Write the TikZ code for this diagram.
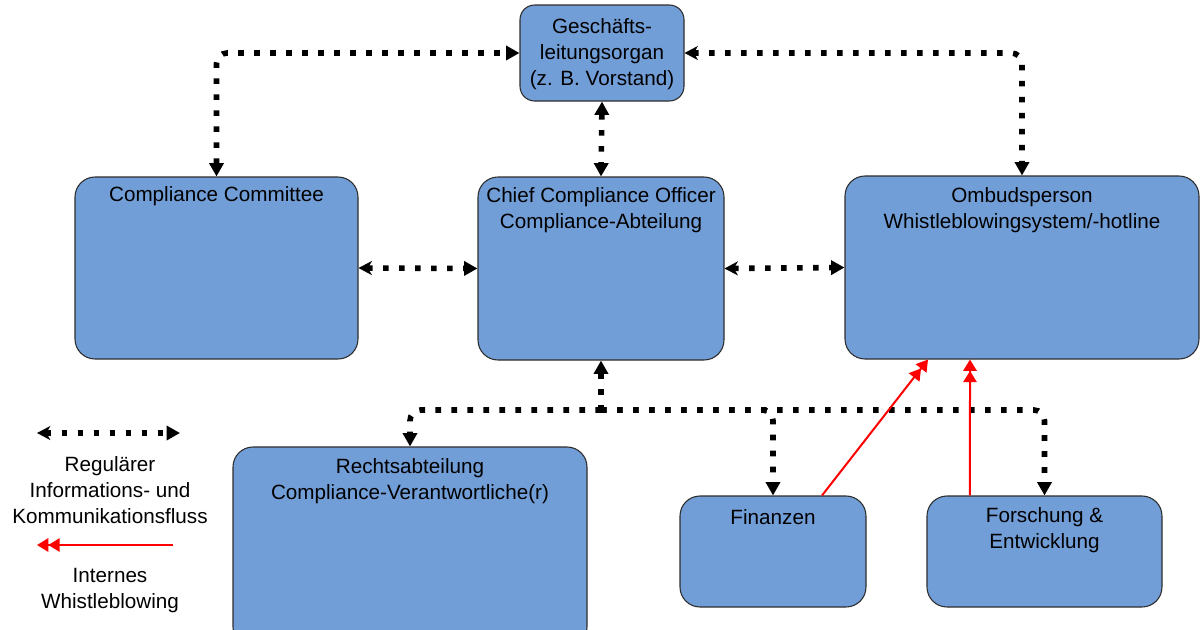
\documentclass[tikz,border=0pt]{standalone}
\usepackage{fontspec}
\setmainfont{Liberation Sans}
\usetikzlibrary{arrows.meta}
\definecolor{boxblue}{RGB}{114,158,216}
\definecolor{boxline}{RGB}{45,45,45}
\tikzset{
  box/.style={draw=boxline, line width=0.8pt, fill=boxblue, rounded corners=15pt, inner sep=0pt},
  txt/.style={align=center, font=\fontsize{15.5}{19.5}\selectfont, inner sep=0pt},
  dots/.style={line width=4.2pt, dash pattern=on 4.2pt off 7.8pt, black},
  tri/.tip={Triangle[width=10.5pt,length=10pt]},
  stl/.tip={Stealth[width=10.5pt,length=10pt,inset=3pt]},
  wb/.style={red, line width=1.5pt, -{Triangle[width=10pt,length=8.5pt]Triangle[width=10pt,length=8.5pt]}},
}
\begin{document}
\begin{tikzpicture}[x=0.75pt,y=-0.75pt]
\useasboundingbox (0,0) rectangle (1200,629);

% boxes
\node[box, rounded corners=11pt, minimum width=164*0.75pt, minimum height=96*0.75pt] (ges) at (602,53) {};
\node[box, minimum width=283*0.75pt, minimum height=182*0.75pt] (com) at (216.5,268) {};
\node[box, minimum width=246*0.75pt, minimum height=183*0.75pt] (cco) at (601,268.5) {};
\node[box, minimum width=354*0.75pt, minimum height=183*0.75pt] (omb) at (1022,267.5) {};
\node[box, minimum width=354*0.75pt, minimum height=200*0.75pt] (rec) at (410,547) {};
\node[box, minimum width=186*0.75pt, minimum height=111*0.75pt] (fin) at (773,551.5) {};
\node[box, minimum width=235*0.75pt, minimum height=111*0.75pt] (fo) at (1044.5,551.5) {};

% texts
\node[txt] (gest) at (602,54.5) {Geschäfts-\\leitungsorgan\\(z. B. Vorstand)};
\node[txt] (comt) at (216.5,196.5) {Compliance Committee};
\node[txt] (ccot) at (601,210) {Chief Compliance Officer\\Compliance-Abteilung};
\node[txt] (ombt) at (1022,210) {Ombudsperson\\Whistleblowingsystem/-hotline};
\node[txt] (rect) at (410,481) {Rechtsabteilung\\Compliance-Verantwortliche(r)};
\node[txt] (fint) at (773,517.5) {Finanzen};
\node[txt] (fot) at (1044.5,530) {Forschung \&\\Entwicklung};

% dotted connectors
\draw[dots, {tri}-{tri}, rounded corners=8pt] (com.north) |- (ges.west);
\draw[dots, {stl}-{tri}, rounded corners=8pt] (ges.east) -| (omb.north);
\draw[dots, {tri}-{tri}] (ges.south) -- (cco.north);
\draw[dots, {stl}-{tri}] (com.east) -- (cco.west);
\draw[dots, {stl}-{tri}] (cco.east) -- (omb.west);
\coordinate (bus) at (601,410);
\draw[dots, {tri}-] (cco.south) -- (bus);
\draw[dots, -{tri}, rounded corners=8pt] (bus) -| (rec.north);
\draw[dots, -{tri}, rounded corners=8pt] (bus) -| (fin.north);
\draw[dots, -{tri}, rounded corners=8pt] (bus) -| (fo.north);

% whistleblowing
\draw[wb] ([xshift=36.75pt]fin.north) -- ([xshift=-70.5pt]omb.south);
\draw[wb] ([xshift=-55.9pt]fo.north) -- ([xshift=-39pt]omb.south);

% legend
\coordinate (la) at (37,433);
\coordinate (lb) at (180,433);
\draw[dots, {stl}-{tri}] (la) -- (lb);
\node[txt] (lt1) at (110,490.5) {Regulärer\\Informations- und\\Kommunikationsfluss};
\coordinate (ra) at (173,545);
\coordinate (rb) at (37,545);
\draw[wb] (ra) -- (rb);
\node[txt] (lt2) at (110,590.5) {Internes\\Whistleblowing};
\end{tikzpicture}
\end{document}
